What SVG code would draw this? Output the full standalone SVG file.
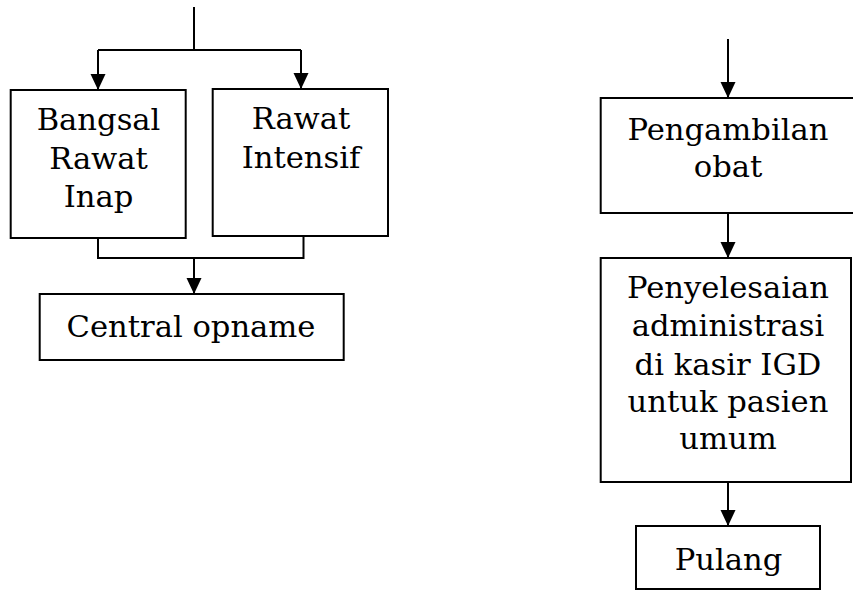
<svg xmlns="http://www.w3.org/2000/svg" width="853" height="590" viewBox="0 0 853 590">
<style>
.box{fill:#fff;stroke:#000;stroke-width:2}
.ln{fill:none;stroke:#000;stroke-width:2}
.t{font-family:"DejaVu Serif","Liberation Serif",serif;font-size:30.6px;fill:#000;text-anchor:middle}
</style>
<defs>
<marker id="ah" markerUnits="userSpaceOnUse" markerWidth="17" markerHeight="16" refX="16" refY="7.5" orient="auto">
<path d="M0,0 L16,7.5 L0,15 z" fill="#000"/>
</marker>
</defs>
<rect width="853" height="590" fill="#fff"/>
<g id="connectors">
<path class="ln" d="M194,7 V50"/>
<path class="ln" d="M98,50 H301"/>
<path class="ln" d="M98,50 V90" marker-end="url(#ah)"/>
<path class="ln" d="M301,50 V89" marker-end="url(#ah)"/>
<path class="ln" d="M98,236 V258 H303.5 V236"/>
<path class="ln" d="M194,258 V294" marker-end="url(#ah)"/>
<path class="ln" d="M728,39 V98" marker-end="url(#ah)"/>
<path class="ln" d="M728,213 V258" marker-end="url(#ah)"/>
<path class="ln" d="M728,482 V526" marker-end="url(#ah)"/>
</g>
<g id="bangsal">
<rect class="box" x="10.7" y="90" width="175" height="148"/>
<text class="t" x="98.5" y="130">Bangsal</text>
<text class="t" x="98.5" y="168.5">Rawat</text>
<text class="t" x="98.5" y="207">Inap</text>
</g>
<g id="intensif">
<rect class="box" x="212.7" y="89" width="175.3" height="147"/>
<text class="t" x="301" y="129">Rawat</text>
<text class="t" x="301" y="168">Intensif</text>
</g>
<g id="central">
<rect class="box" x="39.7" y="294" width="304" height="66"/>
<text class="t" x="191" y="337">Central opname</text>
</g>
<g id="pengambilan">
<rect class="box" x="600.7" y="98" width="256" height="115"/>
<text class="t" x="728" y="140">Pengambilan</text>
<text class="t" x="728" y="177">obat</text>
</g>
<g id="penyelesaian">
<rect class="box" x="600.7" y="258" width="250.3" height="224"/>
<text class="t" x="728" y="298">Penyelesaian</text>
<text class="t" x="728" y="336">administrasi</text>
<text class="t" x="728" y="374.5">di kasir IGD</text>
<text class="t" x="728" y="412">untuk pasien</text>
<text class="t" x="728" y="449">umum</text>
</g>
<g id="pulang">
<rect class="box" x="636" y="526" width="184" height="63"/>
<text class="t" x="728.5" y="570">Pulang</text>
</g>
</svg>
